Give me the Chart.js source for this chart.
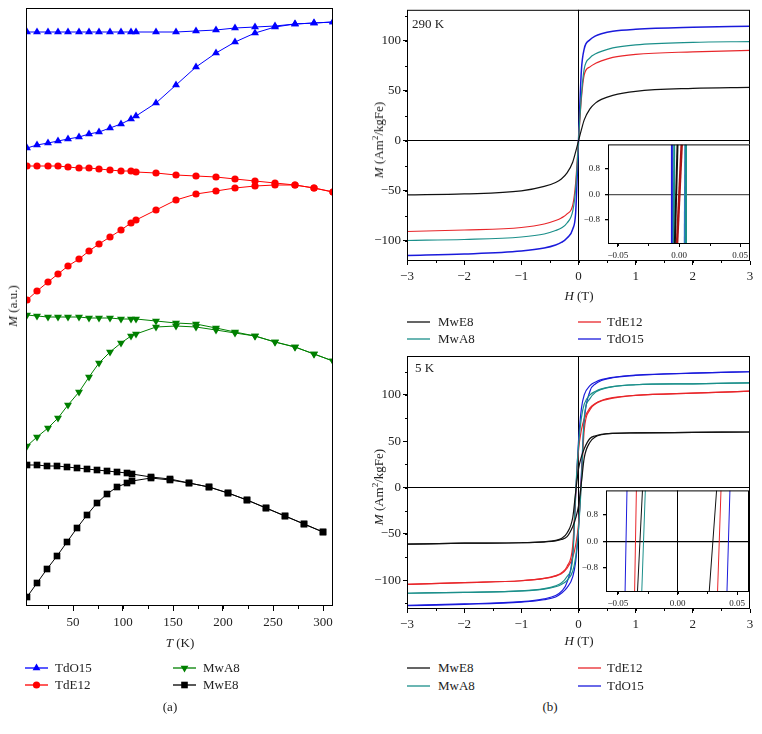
<!DOCTYPE html>
<html>
<head>
<meta charset="utf-8">
<title>M(T) and M(H) curves</title>
<script src="https://cdn.jsdelivr.net/npm/chart.js@4.4.1/dist/chart.umd.min.js"></script>
<style>
  html, body { margin: 0; background: #fff; }
  #fig { position: relative; width: 762px; height: 734px; overflow: hidden;
         font-family: 'Liberation Serif', 'Times New Roman', serif; color: #222; }
  #fig canvas { position: absolute; }
  .txt { position: absolute; font-size: 13px; line-height: 16px; white-space: nowrap; }
  .mid { transform: translate(-50%, -50%); }
  .rot { transform: translate(-50%, -50%) rotate(-90deg); }
  sup { font-size: 9px; line-height: 0; }
</style>
</head>
<body>
<div id="fig">
  <canvas id="cT" width="340" height="640" style="left:0;top:0"></canvas>
  <canvas id="c290" width="392" height="290" style="left:370px;top:0"></canvas>
  <canvas id="c290in" width="178" height="130" style="left:576px;top:134px"></canvas>
  <canvas id="c5" width="392" height="290" style="left:370px;top:346px"></canvas>
  <canvas id="c5in" width="178" height="132" style="left:574px;top:480px"></canvas>

  <div class="txt rot" style="left:13px;top:306px"><i>M</i> (a.u.)</div>
  <div class="txt mid" style="left:180px;top:643px"><i>T</i> (K)</div>
  <div class="txt mid" style="left:170px;top:707px">(a)</div>

  <div class="txt" style="left:412px;top:16px">290 K</div>
  <div class="txt rot" style="left:379px;top:140px"><i>M</i> (Am<sup>2</sup>/kgFe)</div>
  <div class="txt mid" style="left:579px;top:296px"><i>H</i> (T)</div>

  <div class="txt" style="left:415px;top:360px">5 K</div>
  <div class="txt rot" style="left:379px;top:487px"><i>M</i> (Am<sup>2</sup>/kgFe)</div>
  <div class="txt mid" style="left:579px;top:641px"><i>H</i> (T)</div>
  <div class="txt mid" style="left:550px;top:707px">(b)</div>
</div>

<script>
// ---- panel (a): M vs T, FC (upper) and ZFC (lower) branches, arbitrary units
const tempColored = [4, 14, 25, 35, 45, 56, 66, 76, 87, 98, 108, 113, 133, 153, 173, 193, 212, 232, 252, 272, 291, 310];
const tempBlack = [4, 14, 24, 34, 44, 54, 64, 74, 84, 94, 104, 109, 128, 147, 166, 186, 205, 224, 243, 262, 281, 300];
const tTicks = [50, 100, 150, 200, 250, 300];

const tdo15Fc = [574, 574, 574, 574, 574, 574, 574, 574, 574, 574, 574, 574, 574, 574, 575, 576, 578, 579, 580, 582, 583, 584];
const tdo15Zfc = [458, 461, 463, 465, 467, 469, 472, 474, 478, 482, 487, 490, 503, 521, 539, 553, 564, 573, 579, 582, 583, 584];
const tde12Fc = [440, 440, 440, 440, 439, 438, 438, 437, 436, 435, 435, 434, 433, 431, 430, 429, 427, 425, 423, 421, 418, 414];
const tde12Zfc = [306, 315, 324, 332, 340, 347, 355, 362, 369, 376, 383, 386, 396, 406, 412, 415, 418, 420, 421, 421, 418, 414];
const mwa8Fc = [291, 290, 289, 289, 289, 289, 288, 288, 288, 287, 287, 287, 285, 283, 282, 278, 274, 270, 264, 259, 252, 245];
const mwa8Zfc = [160, 169, 178, 188, 201, 214, 229, 243, 254, 263, 270, 272, 279, 280, 279, 276, 273, 270, 264, 259, 252, 245];
const mwe8Fc = [141, 141, 140, 140, 139, 138, 137, 136, 135, 134, 133, 132, 129, 127, 123, 119, 113, 106, 98, 90, 82, 74];
const mwe8Zfc = [9, 23, 37, 50, 64, 78, 91, 103, 112, 119, 123, 125, 128, 126, 123, 119, 113, 106, 98, 90, 82, 74];

// ---- panel (b): hysteresis loops, H in T, M in Am2/kgFe
const fieldGrid = [-3, -2, -1, -0.6, -0.4, -0.3, -0.2, -0.1, -0.05, 0, 0.05, 0.1, 0.2, 0.3, 0.4, 0.6, 1, 2, 3];
const hTicks = [-3, -2, -1, 0, 1, 2, 3];
const mTicks = [-100, -50, 0, 50, 100];

// 290 K (no visible opening at this scale)
const mwe8At290 = [-54, -53, -50, -45.5, -41.5, -38, -32, -21, -11, 0, 11, 21, 32, 38, 41.5, 45.5, 49.5, 52.5, 53.5];
const mwa8At290 = [-99.5, -98.5, -96, -93, -89.5, -87, -82, -70, -48, 0, 45, 72, 83, 87, 89.5, 93, 96, 98.5, 99.3];
const tde12At290 = [-90.5, -89, -86.5, -83, -79.5, -77, -73, -64, -42, 0, 42, 66, 74, 77.5, 80, 83.5, 86.5, 89, 90.5];
const tdo15At290 = [-114.5, -113, -110, -107, -104, -101.5, -97, -88, -72, 0, 70, 92, 101, 105, 107, 109.5, 111.5, 113.5, 114.5];

// 5 K, descending (down) and ascending (up) branches
const mwe8Down5 = [-61, -60, -59.5, -58.5, -57, -55, -49, -32, -5, 20, 33, 42, 53, 56, 57.5, 58.5, 59, 59.5, 60];
const mwe8Up5 = [-61, -60, -59.5, -58.5, -57.5, -56, -53, -42, -33, -20, 5, 32, 49, 55, 57, 58.5, 59, 59.5, 60];
const mwa8Down5 = [-114, -113, -111.5, -109, -106, -103, -96, -75, -5, 45, 75, 90, 100, 104, 106.5, 109, 111, 112, 113];
const mwa8Up5 = [-114, -113, -111.5, -109.5, -107, -104.5, -100, -90, -75, -45, 5, 75, 96, 103, 106, 109, 111, 112, 113];
const tde12Down5 = [-104.5, -102.5, -100.5, -98, -95, -92, -85, -62, -8, 40, 62, 74, 86, 91, 94, 97, 99.5, 102, 104];
const tde12Up5 = [-104.5, -102.5, -100.5, -98, -95.5, -93, -87, -75, -62, -40, 8, 62, 84, 90.5, 93.5, 96.5, 99.5, 102, 104];
const tdo15Down5 = [-127, -125.5, -123, -120, -116.5, -112, -102, -70, -10, 50, 85, 100, 110, 114, 116.5, 119, 121.5, 123.5, 125];
const tdo15Up5 = [-127.5, -126, -123.5, -121, -118, -114, -108, -96, -80, -45, 15, 72, 104, 112, 115.5, 118.5, 121, 123.5, 125];

// insets: field where each branch enters / leaves the window |M| <= 1.55
const insetM = [-1.55, 1.55];
const inTicksH = [-0.05, 0, 0.05];
const inTicksM = [-0.8, 0, 0.8];
const in290MwE8 = [-0.0034, -0.0012];
const in290MwA8L = [-0.0043, -0.0039];
const in290MwA8R = [0.0053, 0.0057];
const in290TdE12 = [-0.0016, 0.0022];
const in290TdO15L = [-0.0062, -0.0058];
const in290TdO15R = [0.0047, 0.0051];
const in5MwE8L = [-0.0336, -0.0294];
const in5MwE8R = [0.0266, 0.0328];
const in5MwA8L = [-0.0300, -0.0270];
const in5TdE12L = [-0.0360, -0.0345];
const in5TdE12R = [0.0336, 0.0365];
const in5TdO15L = [-0.0440, -0.0424];
const in5TdO15R = [0.0415, 0.0440];

const serif = "'Liberation Serif', 'Times New Roman', serif";
const cBlack = '#111', cTeal = '#1b8f8a', cRed = '#e8262a', cBlue = '#1a1adb';

const pts = (xs, ys) => xs.map((x, i) => ({ x: x, y: ys[i] }));
const fmt = d => v => (v < 0 ? '\u2212' : '') + Math.abs(v).toFixed(d);
const fixedTicks = list => scale => { scale.ticks = list.map(v => ({ value: v })); };

function eachStep(scale, step, fn) {
  const n0 = Math.ceil(scale.min / step - 1e-9), n1 = Math.floor(scale.max / step + 1e-9);
  for (let n = n0; n <= n1; n++) fn(n * step);
}

// frame around the plot area + minor ticks + optional white fill
const framePlugin = {
  id: 'frame',
  beforeDraw(chart, args, o) {
    if (!o.fill) return;
    const a = chart.chartArea, ctx = chart.ctx;
    ctx.save();
    ctx.fillStyle = o.fill;
    ctx.fillRect(a.left, a.top, a.right - a.left, a.bottom - a.top);
    ctx.restore();
  },
  afterDraw(chart, args, o) {
    const a = chart.chartArea, ctx = chart.ctx, sx = chart.scales.x, sy = chart.scales.y;
    ctx.save();
    ctx.strokeStyle = '#000';
    ctx.lineWidth = 1;
    ctx.strokeRect(a.left + 0.5, a.top + 0.5, a.right - a.left - 1, a.bottom - a.top - 1);
    ctx.beginPath();
    if (o.minorX) eachStep(sx, o.minorX, v => {
      const p = Math.round(sx.getPixelForValue(v)) + 0.5;
      ctx.moveTo(p, a.bottom); ctx.lineTo(p, a.bottom + o.minorLen);
    });
    if (o.minorY) eachStep(sy, o.minorY, v => {
      const p = Math.round(sy.getPixelForValue(v)) + 0.5;
      ctx.moveTo(a.left, p); ctx.lineTo(a.left - o.minorLen, p);
    });
    ctx.stroke();
    ctx.restore();
  }
};
Chart.register(framePlugin);

const base = {
  responsive: false,
  animation: false,
  events: [],
  plugins: { legend: { display: false }, tooltip: { enabled: false } }
};

// ---------- panel (a)
function tSet(label, xs, ys, color, style, r, rot) {
  return {
    label: label, data: pts(xs, ys), borderColor: color, backgroundColor: color,
    borderWidth: 1, pointStyle: style, pointRadius: r, pointRotation: rot || 0,
    pointBorderWidth: 0, pointBackgroundColor: color
  };
}
new Chart(document.getElementById('cT'), {
  type: 'line',
  data: {
    datasets: [
      tSet('MwE8 FC', tempBlack, mwe8Fc, '#000', 'rect', 4.7),
      tSet('MwE8 ZFC', tempBlack, mwe8Zfc, '#000', 'rect', 4.7),
      tSet('MwA8 FC', tempColored, mwa8Fc, '#008000', 'triangle', 4.6, 180),
      tSet('MwA8 ZFC', tempColored, mwa8Zfc, '#008000', 'triangle', 4.6, 180),
      tSet('TdE12 FC', tempColored, tde12Fc, '#ff0000', 'circle', 3.6),
      tSet('TdE12 ZFC', tempColored, tde12Zfc, '#ff0000', 'circle', 3.6),
      tSet('TdO15 FC', tempColored, tdo15Fc, '#0000ff', 'triangle', 4.6),
      tSet('TdO15 ZFC', tempColored, tdo15Zfc, '#0000ff', 'triangle', 4.6)
    ]
  },
  options: Object.assign({}, base, {
    layout: { padding: { left: 26, top: 8, right: 7, bottom: 0 } },
    scales: {
      x: {
        type: 'linear', min: 3, max: 310,
        afterBuildTicks: fixedTicks(tTicks),
        afterFit: s => { s.height = 34; },
        border: { display: false },
        grid: { drawOnChartArea: false, tickLength: 5, tickColor: '#000' },
        ticks: { font: { family: serif, size: 13 }, color: '#222', padding: 4, maxRotation: 0 }
      },
      y: { display: false, min: 0, max: 598 }
    },
    plugins: Object.assign({}, base.plugins, { frame: { minorX: 25, minorLen: 3 } })
  })
});

// ---------- panel (b) main plots
function hSet(label, ys, color, w) {
  return {
    label: label, data: pts(fieldGrid, ys), borderColor: color, borderWidth: w || 1.2,
    pointRadius: 0, cubicInterpolationMode: 'monotone', fill: false
  };
}
function loopOptions(yMin, yMax, padTop, xHeight) {
  return Object.assign({}, base, {
    layout: { padding: { left: 0, top: padTop, right: 12, bottom: 0 } },
    scales: {
      x: {
        type: 'linear', min: -3, max: 3,
        afterBuildTicks: fixedTicks(hTicks),
        afterFit: s => { s.height = xHeight; },
        border: { display: false },
        grid: {
          color: c => (c.tick && c.tick.value === 0 ? '#000' : 'rgba(0,0,0,0)'),
          tickColor: '#000', tickLength: 4
        },
        ticks: { font: { family: serif, size: 13 }, color: '#222', padding: 4, maxRotation: 0, callback: fmt(0) }
      },
      y: {
        type: 'linear', min: yMin, max: yMax,
        afterBuildTicks: fixedTicks(mTicks),
        afterFit: s => { s.width = 37; },
        border: { display: false },
        grid: {
          color: c => (c.tick && c.tick.value === 0 ? '#000' : 'rgba(0,0,0,0)'),
          tickColor: '#000', tickLength: 4
        },
        ticks: { font: { family: serif, size: 13 }, color: '#222', padding: 2, callback: fmt(0) }
      }
    },
    plugins: Object.assign({}, base.plugins, { frame: { minorX: 0.5, minorY: 25, minorLen: 2 } })
  });
}

new Chart(document.getElementById('c290'), {
  type: 'line',
  data: {
    datasets: [
      hSet('MwE8', mwe8At290, cBlack),
      hSet('MwA8', mwa8At290, cTeal),
      hSet('TdE12', tde12At290, cRed),
      hSet('TdO15', tdo15At290, cBlue, 1.5)
    ]
  },
  options: loopOptions(-120, 131, 8, 29)
});

new Chart(document.getElementById('c5'), {
  type: 'line',
  data: {
    datasets: [
      hSet('MwE8', mwe8Down5, cBlack), hSet('MwE8 up', mwe8Up5, cBlack),
      hSet('MwA8', mwa8Down5, cTeal), hSet('MwA8 up', mwa8Up5, cTeal),
      hSet('TdE12', tde12Down5, cRed), hSet('TdE12 up', tde12Up5, cRed),
      hSet('TdO15', tdo15Down5, cBlue), hSet('TdO15 up', tdo15Up5, cBlue)
    ]
  },
  options: loopOptions(-131, 142, 10, 27)
});

// ---------- insets
function iSet(xs, color, w) {
  return { data: pts(xs, insetM), borderColor: color, borderWidth: w, pointRadius: 0, fill: false };
}
function insetOptions(hRange, padTop, padRight, xHeight, vertZero, zeroColor) {
  const zeroLine = c => (c.tick && c.tick.value === 0 ? zeroColor : 'rgba(0,0,0,0)');
  return Object.assign({}, base, {
    layout: { padding: { left: 0, top: padTop, right: padRight, bottom: 0 } },
    scales: {
      x: {
        type: 'linear', min: -hRange, max: hRange,
        afterBuildTicks: fixedTicks(inTicksH),
        afterFit: s => { s.height = xHeight; },
        border: { display: false },
        grid: { color: vertZero ? zeroLine : 'rgba(0,0,0,0)', tickColor: '#000', tickLength: 3 },
        ticks: { font: { family: serif, size: 9 }, color: '#222', padding: 3, maxRotation: 0, callback: fmt(2) }
      },
      y: {
        type: 'linear', min: -1.55, max: 1.55,
        afterBuildTicks: fixedTicks(inTicksM),
        afterFit: s => { s.width = 32; },
        border: { display: false },
        grid: { color: zeroLine, lineWidth: 1.3, tickColor: '#000', tickLength: 3 },
        ticks: { font: { family: serif, size: 9 }, color: '#222', padding: 5, callback: fmt(1) }
      }
    },
    plugins: Object.assign({}, base.plugins, { frame: { fill: '#fff', minorX: 0.025, minorLen: 2 } })
  });
}

new Chart(document.getElementById('c290in'), {
  type: 'line',
  data: {
    datasets: [
      iSet(in290MwE8, cBlack, 2),
      iSet(in290MwA8L, cTeal, 2), iSet(in290MwA8R, cTeal, 2),
      iSet(in290TdE12, '#a81414', 2.5),
      iSet(in290TdO15L, cBlue, 2), iSet(in290TdO15R, '#2f78c4', 2)
    ]
  },
  options: insetOptions(0.058, 7, 4, 20, false, '#555')
});

new Chart(document.getElementById('c5in'), {
  type: 'line',
  data: {
    datasets: [
      iSet(in5MwE8L, cBlack, 1), iSet(in5MwE8R, cBlack, 1),
      iSet(in5MwA8L, cTeal, 1),
      iSet(in5TdE12L, cRed, 1), iSet(in5TdE12R, cRed, 1),
      iSet(in5TdO15L, cBlue, 1), iSet(in5TdO15R, cBlue, 1)
    ]
  },
  options: insetOptions(0.06, 8, 3, 20, true, '#000')
});

// ---------- legends (HTML, real text)
const fig = document.getElementById('fig');
function markerSvg(kind, color) {
  if (kind === 'up') return '<polygon points="11.5,3.5 15.4,10.3 7.6,10.3" fill="' + color + '"/>';
  if (kind === 'down') return '<polygon points="11.5,12.5 15.4,5.7 7.6,5.7" fill="' + color + '"/>';
  if (kind === 'circle') return '<circle cx="11.5" cy="8" r="3.6" fill="' + color + '"/>';
  if (kind === 'square') return '<rect x="8.2" y="4.7" width="6.6" height="6.6" fill="' + color + '"/>';
  return '';
}
function addKey(x, y, textX, label, color, kind) {
  const svg = document.createElementNS ? null : null;
  const box = document.createElement('div');
  box.style.position = 'absolute';
  box.style.left = x + 'px';
  box.style.top = (y - 8) + 'px';
  box.innerHTML = '<svg width="23" height="16" style="display:block"><line x1="0" y1="8" x2="23" y2="8" stroke="' +
    color + '" stroke-width="1.3"/>' + markerSvg(kind, color) + '</svg>';
  fig.appendChild(box);
  const t = document.createElement('div');
  t.className = 'txt';
  t.style.left = textX + 'px';
  t.style.top = (y - 8) + 'px';
  t.textContent = label;
  fig.appendChild(t);
}

const keysA = [
  [25, 668, 'TdO15', '#0000ff', 'up'], [25, 685, 'TdE12', '#ff0000', 'circle'],
  [173, 668, 'MwA8', '#008000', 'down'], [173, 685, 'MwE8', '#000', 'square']
];
keysA.forEach(k => addKey(k[0], k[1], k[0] + 30, k[2], k[3], k[4]));

[[322, 339], [668, 686]].forEach(rows => {
  addKey(407, rows[0], 438, 'MwE8', cBlack, '');
  addKey(407, rows[1], 438, 'MwA8', cTeal, '');
  addKey(578, rows[0], 607, 'TdE12', cRed, '');
  addKey(578, rows[1], 607, 'TdO15', cBlue, '');
});
</script>
</body>
</html>
